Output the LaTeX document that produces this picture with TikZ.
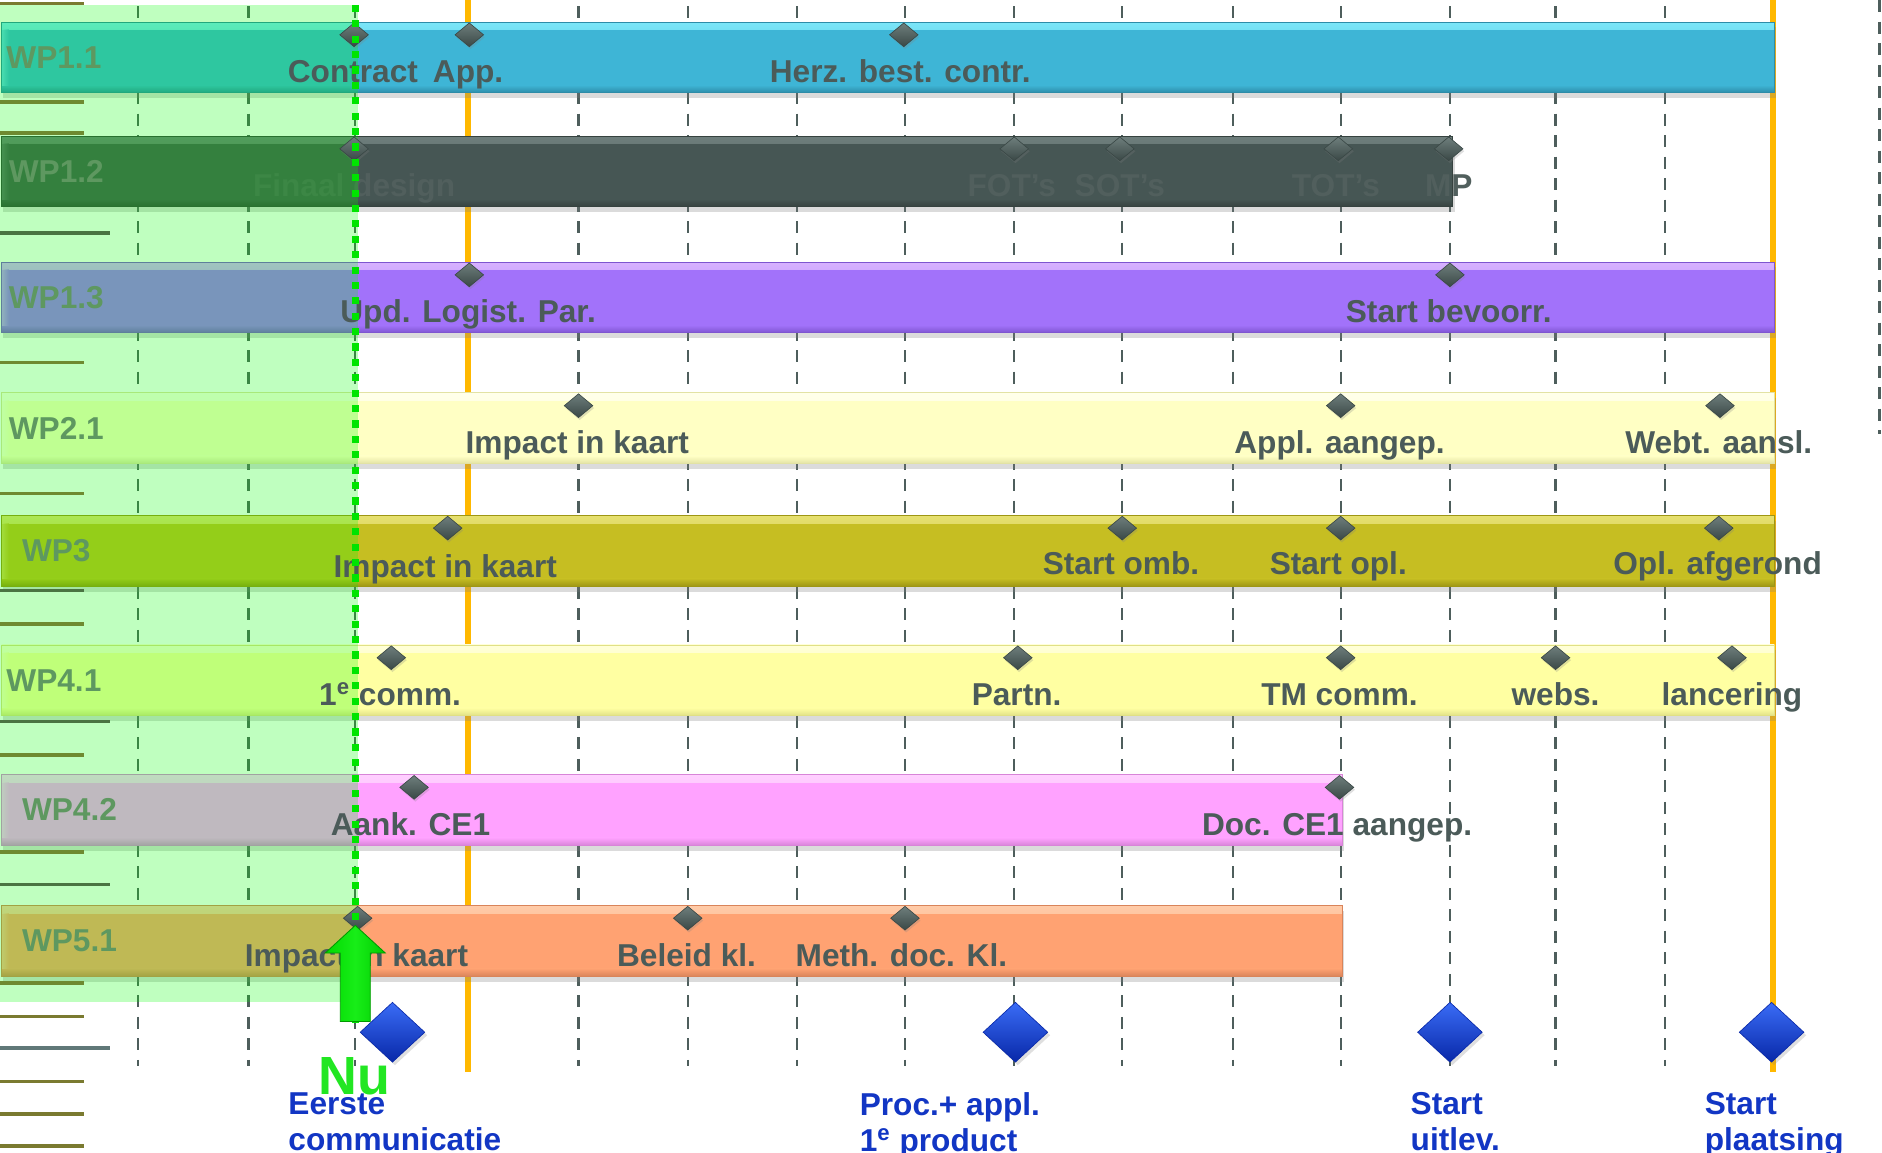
\documentclass[tikz,border=0pt]{standalone}
\usepackage{fontspec}
\setmainfont{Liberation Sans}
\usetikzlibrary{shapes.geometric,shadows}
\definecolor{c11b}{HTML}{3EB5D6}\definecolor{c11l}{HTML}{7BE6F8}\definecolor{c11d}{HTML}{2D8CA8}
\definecolor{c12b}{HTML}{465654}\definecolor{c12l}{HTML}{6E7E7C}\definecolor{c12d}{HTML}{36423F}
\definecolor{c13b}{HTML}{A272FA}\definecolor{c13l}{HTML}{D7B2FF}\definecolor{c13d}{HTML}{7E55D0}
\definecolor{c21b}{HTML}{FFFFC4}\definecolor{c21l}{HTML}{FFFFEA}\definecolor{c21d}{HTML}{E2E2A4}
\definecolor{c3b}{HTML}{C6BE22}\definecolor{c3l}{HTML}{E6E070}\definecolor{c3d}{HTML}{9E9614}
\definecolor{c41b}{HTML}{FFFFA2}\definecolor{c41l}{HTML}{FFFFD8}\definecolor{c41d}{HTML}{E0E086}
\definecolor{c42b}{HTML}{FFA2FF}\definecolor{c42l}{HTML}{FFD0FF}\definecolor{c42d}{HTML}{D884D8}
\definecolor{c51b}{HTML}{FFA272}\definecolor{c51l}{HTML}{FFCBA8}\definecolor{c51d}{HTML}{D9845A}
\definecolor{lblgray}{HTML}{4B5B59}
\definecolor{ghost}{HTML}{515F5D}
\definecolor{wpgreen}{HTML}{5E9860}
\definecolor{gridgray}{HTML}{4E5E5C}
\definecolor{orangeline}{HTML}{FFB800}
\definecolor{dotgreen}{HTML}{00E400}
\definecolor{nugreen}{HTML}{22E622}
\definecolor{blue1}{HTML}{1236C4}
\definecolor{bdlight}{HTML}{3A6CF6}
\definecolor{bddark}{HTML}{0828A8}
\definecolor{msl}{HTML}{6E7E7C}
\definecolor{msd}{HTML}{3A4846}
\definecolor{olive1}{HTML}{6E8A30}
\definecolor{olive2}{HTML}{7A7A30}
\definecolor{dkgreen}{HTML}{4A7442}
\definecolor{grayline}{HTML}{607878}
\newcommand\lblfont{\fontsize{15pt}{17pt}\selectfont\bfseries}
\newcommand\wpbarnode[4]{\node[wpbar=#4, minimum width={(#3-1)*0.02cm}] (#1) at (1,#2) {};}
\begin{document}
\begin{tikzpicture}[x=0.02cm,y=-0.02cm,
  wpbar/.style={rectangle, inner sep=0, anchor=north west, minimum height=1.18cm,
    fill=#1b, draw=#1d, line width=0.4pt,
    drop shadow={opacity=0.28, shadow xshift=0.03cm, shadow yshift=-0.09cm},
    path picture={
      \shade[top color=#1l, bottom color=#1b] (path picture bounding box.north west) rectangle ([yshift=-0.13cm]path picture bounding box.north east);
      \shade[top color=#1b, bottom color=#1d] ([yshift=0.13cm]path picture bounding box.south west) rectangle (path picture bounding box.south east);
      \shade[left color=#1l, right color=#1b, opacity=0.6] ([yshift=-0.13cm]path picture bounding box.north west) rectangle ([xshift=0.12cm,yshift=0.13cm]path picture bounding box.south west);
    }},
  ms/.style={diamond, inner sep=0, minimum width=0.48cm, minimum height=0.40cm,
    top color=msl, bottom color=msd, draw=msd, line width=0.3pt,
    drop shadow={opacity=0.25, shadow xshift=0.02cm, shadow yshift=-0.04cm}},
  bigms/.style={diamond, inner sep=0, minimum width=1.08cm, minimum height=1.0cm,
    top color=bdlight, bottom color=bddark, draw=bddark, line width=0.3pt,
    drop shadow={opacity=0.25, shadow xshift=0.04cm, shadow yshift=-0.05cm}},
  lbl/.style={anchor=base, inner sep=0, text=lblgray, font=\lblfont},
  ghostlbl/.style={anchor=base, inner sep=0, text=ghost, font=\lblfont},
  wplbl/.style={anchor=base west, inner sep=0, text=wpgreen, font=\lblfont},
  bluelbl/.style={anchor=north west, inner sep=0, text=blue1, font=\lblfont, align=left},
  gridline/.style={gridgray, line width=1.1pt, dash pattern=on 5.7pt off 4.5pt},
  orline/.style={orangeline, line width=2.9pt},
  leftline/.style={line width=1.7pt}
]
\useasboundingbox (0,0) rectangle (1568,960);
\clip (0,0) rectangle (1568,960);
\fill[white] (0,0) rectangle (1568,960);

% dashed grid
\foreach \gx in {115,207,296,482,573,664,754,845,935,1027,1117,1208,1296,1387}
  \draw[gridline] (\gx,5) -- (\gx,888);
\draw[gridline] (1566,0) -- (1566,362);

% orange lines
\draw[orline] (390,0) -- (390,893);
\draw[orline] (1477,0) -- (1477,893);

% bars
\wpbarnode{wp11}{18}{1478}{c11}
\wpbarnode{wp12}{113}{1210}{c12}
\wpbarnode{wp13}{218}{1478}{c13}
\wpbarnode{wp21}{327}{1478}{c21}
\wpbarnode{wp3}{429}{1478}{c3}
\wpbarnode{wp41}{537}{1478}{c41}
\wpbarnode{wp42}{645}{1118}{c42}
\wpbarnode{wp51}{754}{1118}{c51}

% ghost labels of WP1.2
\node[ghostlbl] (l12a) at (295,164) {Finaal design};
\node[ghostlbl] (l12b) at (843,164) {FOT’s};
\node[ghostlbl] (l12c) at (933,164) {SOT’s};
\node[ghostlbl] (l12d) at (1113,164) {TOT’s};
\node[ghostlbl] (l12e) at (1207,164) {MP};

% green "past" overlay
\fill[green, opacity=0.25] (0,4) rectangle (298,835);

% left short lines
\foreach \ly/\ll/\lc in {3/70/olive2,85/70/olive1,111/70/olive1,194/92/dkgreen,302/70/olive1,411/70/olive1,492/70/dkgreen,520/70/olive1,601/92/dkgreen,629/70/olive1,710/70/olive1,737/92/dkgreen,819/70/olive1,847/70/olive2,873/92/grayline,901/70/olive2,928/70/olive2,955/70/olive2}
  \draw[leftline, \lc] (0,\ly) -- (\ll,\ly);

% milestones
\foreach \mx/\mn in {295/a,391/b,753/c} \node[ms] (m11\mn) at (\mx,29) {};
\foreach \mx/\mn in {295/a,845/b,933/c,1115/d,1207/e} \node[ms] (m12\mn) at (\mx,124) {};
\foreach \mx/\mn in {391/a,1208/b} \node[ms] (m13\mn) at (\mx,229) {};
\foreach \mx/\mn in {482/a,1117/b,1433/c} \node[ms] (m21\mn) at (\mx,338) {};
\foreach \mx/\mn in {373/a,935/b,1117/c,1432/d} \node[ms] (m3\mn) at (\mx,440) {};
\foreach \mx/\mn in {326/a,848/b,1117/c,1296/d,1443/e} \node[ms] (m41\mn) at (\mx,548) {};
\foreach \mx/\mn in {345/a,1116/b} \node[ms] (m42\mn) at (\mx,656) {};
\foreach \mx/\mn in {298/a,573/b,754/c} \node[ms] (m51\mn) at (\mx,765) {};

% WP labels
\node[wplbl] (t11) at (5,57) {WP1.1};
\node[wplbl] (t12) at (7,152) {WP1.2};
\node[wplbl] (t13) at (7,257) {WP1.3};
\node[wplbl] (t21) at (7,366) {WP2.1};
\node[wplbl] (t3) at (18,468) {WP3};
\node[wplbl] (t41) at (5,576) {WP4.1};
\node[wplbl] (t42) at (18,684) {WP4.2};
\node[wplbl] (t51) at (18,793) {WP5.1};

% milestone labels
\node[lbl] (l11a) at (294,69) {Contract};
\node[lbl] (l11b) at (390,69) {App.};
\node[lbl] (l11c) at (750,69) {Herz. best. contr.};
\node[lbl] (l13a) at (390,269) {Upd. Logist. Par.};
\node[lbl] (l13b) at (1207,269) {Start bevoorr.};
\node[lbl] (l21a) at (481,378) {Impact in kaart};
\node[lbl] (l21b) at (1116,378) {Appl. aangep.};
\node[lbl] (l21c) at (1432,378) {Webt. aansl.};
\node[lbl] (l3a) at (371,481) {Impact in kaart};
\node[lbl] (l3b) at (934,479) {Start omb.};
\node[lbl] (l3c) at (1115,479) {Start opl.};
\node[lbl] (l3d) at (1431,479) {Opl. afgerond};
\node[lbl] (l41a) at (325,588) {1\textsuperscript{e} comm.};
\node[lbl] (l41b) at (847,588) {Partn.};
\node[lbl] (l41c) at (1116,588) {TM comm.};
\node[lbl] (l41d) at (1296,588) {webs.};
\node[lbl] (l41e) at (1443,588) {lancering};
\node[lbl] (l42a) at (342,696) {Aank. CE1};
\node[lbl] (l42b) at (1114,696) {Doc. CE1 aangep.};
\node[lbl] (l51a) at (297,805) {Impact in kaart};
\node[lbl] (l51b) at (572,805) {Beleid kl.};
\node[lbl] (l51c) at (751,805) {Meth. doc. Kl.};

% "now" dotted line
\draw[dotgreen, line width=3.4pt, dash pattern=on 3.4pt off 3.9pt] (296,4) -- (296,852);

% big milestones
\node[bigms] (bm1) at (327,860) {};
\node[bigms] (bm2) at (846,860) {};
\node[bigms] (bm3) at (1208,860) {};
\node[bigms] (bm4) at (1476,860) {};

\node[bluelbl] (b1) at (240,910) {Eerste\\communicatie};
\node[bluelbl] (b2) at (716,910) {Proc.+ appl.\\1\textsuperscript{e} product};
\node[bluelbl] (b3) at (1175,910) {Start\\uitlev.};
\node[bluelbl] (b4) at (1420,910) {Start\\plaatsing};

% green arrow and "Nu"
\shade[left color=green!85!black, right color=green!80!black, middle color=nugreen!70!green, draw=green!60!black, line width=0.4pt]
  (283.5,851) -- (283.5,794) -- (271,794) -- (296,771) -- (321,794) -- (308.5,794) -- (308.5,851) -- cycle;
\node[anchor=base, inner sep=0, text=nugreen, font=\fontsize{25.5pt}{28pt}\selectfont\bfseries] (nu) at (295,912) {Nu};
\end{tikzpicture}
\end{document}
